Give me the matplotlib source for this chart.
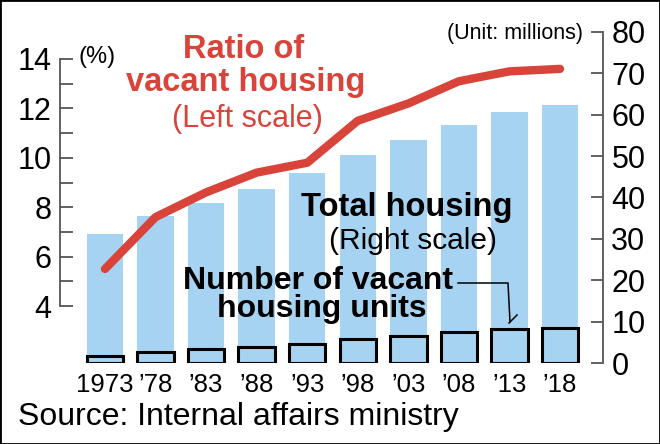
import matplotlib
matplotlib.use("Agg")
import matplotlib.pyplot as plt
from matplotlib import font_manager
from matplotlib.patches import Rectangle

# data
years = ["1973", "\u201978", "\u201983", "\u201988", "\u201993",
         "\u201998", "\u201903", "\u201908", "\u201913", "\u201918"]
total_housing = [31.1, 35.5, 38.6, 42.0, 45.9, 50.2, 53.9, 57.6, 60.6, 62.4]  # millions
vacant_units = [1.7, 2.7, 3.3, 3.9, 4.5, 5.8, 6.6, 7.6, 8.2, 8.5]  # millions
vacant_ratio = [5.5, 7.6, 8.6, 9.4, 9.8, 11.5, 12.2, 13.1, 13.5, 13.6]  # %

RED = "#d8433a"
BLUE = "#a6d3f1"
GREY = "#555555"
sans = ["Liberation Sans", "DejaVu Sans"]
plt.rcParams["font.family"] = sans

# year labels are set in a condensed face in the original
installed = {f.name for f in font_manager.fontManager.ttflist}
if "Liberation Sans Narrow" in installed:
    year_font, year_size = ["Liberation Sans Narrow"], 22
else:
    year_font, year_size = sans, 18.5

W, H = 660, 444
fig = plt.figure(figsize=(W / 100, H / 100), dpi=100)

def fx(x):
    return x / W

def fy(y):
    return 1 - y / H

# axes frame in pixels: x 60..603, y 32 (right 80) .. 363 (right 0)
ax2 = fig.add_axes([fx(60), fy(363), fx(603) - fx(60), fy(32) - fy(363)])
ax = ax2.twinx()
ax.yaxis.tick_left()
ax.yaxis.set_label_position("left")
ax2.yaxis.tick_right()
ax.set_zorder(ax2.get_zorder() + 1)
ax.patch.set_visible(False)

x = list(range(len(years)))
ax2.bar(x, total_housing, width=0.72, color=BLUE, zorder=1)
ax2.bar(x, vacant_units, width=0.72, color=BLUE, edgecolor="black", linewidth=2.2, zorder=2)
ax2.set_ylim(0, 80)
ax2.set_xlim(-0.89, 9.85)

# left scale: 4 at y=306, 14 at y=59
per = (306 - 59) / 10.0
ax.set_ylim(4 - (363 - 306) / per, 14 + (59 - 32) / per)
ax.plot(x, vacant_ratio, color=RED, linewidth=6, solid_capstyle="round", solid_joinstyle="round")

for a in (ax, ax2):
    for s in ("top", "bottom"):
        a.spines[s].set_visible(False)
ax.spines["right"].set_visible(False)
ax2.spines["left"].set_visible(False)
ax.spines["left"].set_bounds(4, 14)
ax.spines["left"].set_color(GREY)
ax.spines["left"].set_linewidth(1.3)
ax2.spines["right"].set_bounds(0, 80)
ax2.spines["right"].set_color(GREY)
ax2.spines["right"].set_linewidth(1.3)

ax.set_yticks([4, 6, 8, 10, 12, 14])
ax.set_yticks([5, 7, 9, 11, 13], minor=True)
ax.tick_params(axis="y", which="both", direction="in", length=9, width=1.3, color=GREY,
               labelsize=22, pad=6)
ax2.set_yticks(range(0, 81, 10))
ax2.tick_params(axis="y", direction="in", length=9, width=1.3, color=GREY, labelsize=22, pad=6)

ax2.set_xticks(x)
ax2.set_xticklabels(years, fontsize=year_size, family=year_font)
ax2.tick_params(axis="x", length=0, pad=7)

# labels
fig.text(fx(79), fy(57), "(%)", fontsize=17, ha="left", va="center")
fig.text(fx(583), fy(33), "(Unit: millions)", fontsize=15.5, ha="right", va="center")

fig.text(fx(244), fy(50), "Ratio of", color=RED, fontsize=23.5, fontweight="bold",
         ha="center", va="center")
fig.text(fx(246), fy(83), "vacant housing", color=RED, fontsize=23.5, fontweight="bold",
         ha="center", va="center")
fig.text(fx(247), fy(119), "(Left scale)", color=RED, fontsize=22, ha="center", va="center")

fig.text(fx(407), fy(207), "Total housing", fontsize=23.5, fontweight="bold",
         ha="center", va="center")
fig.text(fx(413), fy(241), "(Right scale)", fontsize=21.5, ha="center", va="center")

fig.text(fx(318), fy(281), "Number of vacant", fontsize=23, fontweight="bold",
         ha="center", va="center")
fig.text(fx(322), fy(309), "housing units", fontsize=23, fontweight="bold",
         ha="center", va="center")

# leader line to the '13 vacant bar
lead_x = [fx(458), fx(508), fx(510)]
lead_y = [fy(283), fy(283), fy(322)]
fig.add_artist(plt.Line2D(lead_x, lead_y, color="black", linewidth=1.1))
fig.add_artist(plt.Line2D([fx(509), fx(517)], [fy(323), fy(315)], color="black", linewidth=1.1))

fig.text(fx(18), fy(417), "Source: Internal affairs ministry", fontsize=23, ha="left", va="center")

fig.add_artist(Rectangle((0, 0), 1, 1, transform=fig.transFigure, fill=False,
                         edgecolor="black", linewidth=2))

fig.savefig("out.png", dpi=100)
